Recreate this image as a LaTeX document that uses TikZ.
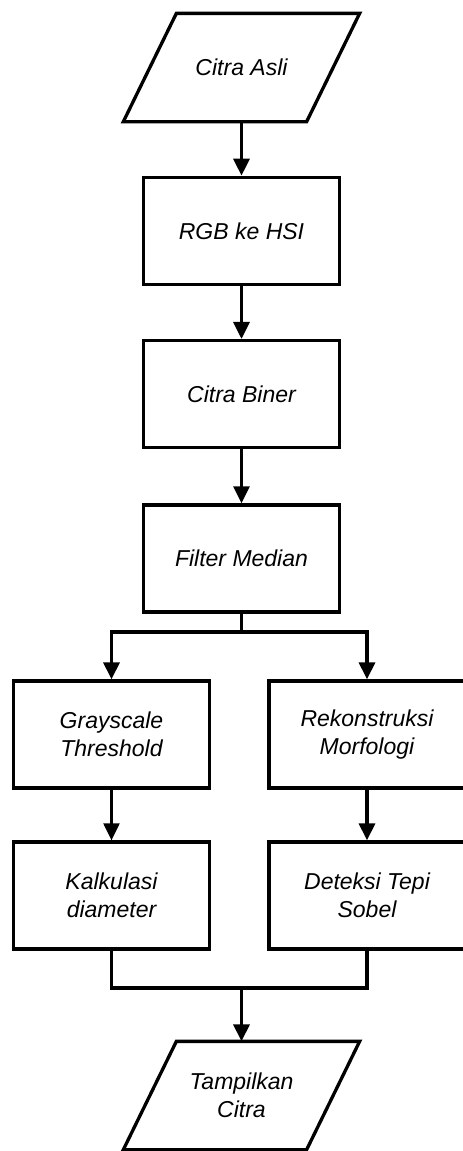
\documentclass[tikz,border=0pt]{standalone}
\usepackage{fontspec}
\setmainfont{Liberation Sans}
\usepackage{tikz}
\usetikzlibrary{arrows.meta, positioning, calc}

\begin{document}
\begin{tikzpicture}[
  x=1pt, y=1pt,
  font=\fontsize{23}{28}\selectfont\itshape,
  box/.style={rectangle, draw, line width=3.3pt, minimum width=196pt, minimum height=107pt, align=center, inner sep=2pt},
  io/.style={rectangle, minimum width=180pt, minimum height=105pt, align=center, inner sep=2pt, outer sep=1.65pt},
  arrow/.style={-{Triangle[length=17pt, width=16pt]}, line width=3.3pt},
  thinarrow/.style={-{Triangle[length=17pt, width=16pt]}, line width=2.2pt},
  link/.style={line width=3.3pt, line join=miter}
]
  \useasboundingbox (0,0) rectangle (463,-1151);

  % main column
  \node[io] (input) at (241.5,-67.5) {Citra Asli};
  \node[box, below=54pt of input] (rgb) {RGB ke HSI};
  \node[box, below=53pt of rgb] (biner) {Citra Biner};
  \node[box, below=54pt of biner] (median) {Filter Median};

  % two branches
  \node[box] (gray) at (111.5,-734.5) {Grayscale\\Threshold};
  \node[box] (rekon) at (367,-734.5) {Rekonstruksi\\Morfologi};
  \node[box] (kalk) at (111.5,-895.5) {Kalkulasi\\diameter};
  \node[box] (sobel) at (367,-895.5) {Deteksi Tepi\\Sobel};

  \node[io] (output) at (241.5,-1095.5) {Tampilkan\\Citra};

  % parallelogram outlines
  \foreach \n in {input, output}
    \draw[link] ($(\n.north west)+(26.5,0)$) -- ($(\n.north east)+(26.5,0)$)
      -- ($(\n.south east)+(-26.5,0)$) -- ($(\n.south west)+(-26.5,0)$) -- cycle;

  \coordinate (split) at (241.5,-632);
  \coordinate (join) at (241.5,-988);

  \draw[arrow] (input) -- (rgb);
  \draw[arrow] (rgb) -- (biner);
  \draw[arrow] (biner) -- (median);
  \draw[link] (median.south) -- (split);
  \draw[arrow] (split) -| (gray.north);
  \draw[arrow] (split) -| (rekon.north);
  \draw[thinarrow] (gray) -- (kalk);
  \draw[arrow] (rekon) -- (sobel);
  \draw[link] (kalk.south) |- (join) -| (sobel.south);
  \draw[arrow] (join) -- (output.north);
\end{tikzpicture}
\end{document}
